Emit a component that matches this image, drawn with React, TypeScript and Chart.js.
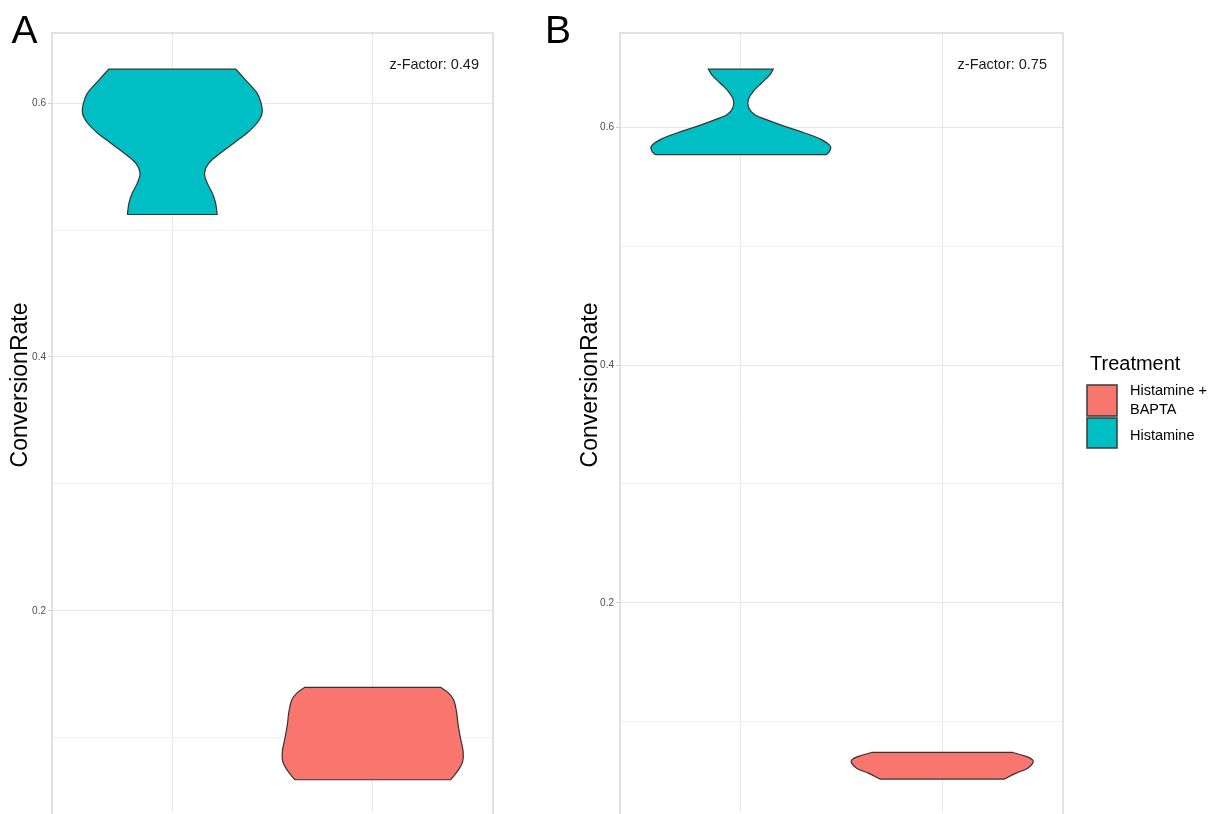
import React, { useEffect, useRef } from "react";
import { Chart, registerables } from "chart.js";

Chart.register(...registerables);

const FONT = "'Liberation Sans', Arial, Helvetica, sans-serif";

// Legend order / colours
const treatments = ["Histamine + BAPTA", "Histamine"];
const treatmentFills = ["#F8766D", "#00BFC4"];
const outlineColor = "#333333";

// Category positions on the x axis
const histaminePos = 1;
const baptaPos = 2;

// y ticks (labelled every 0.2, minor grid every 0.1)
const yTickValues = [0.1, 0.2, 0.3, 0.4, 0.5, 0.6];

// Panel A: z-factor and violin profiles (ConversionRate, half-width in category units)
const zFactorA = "0.49";
const histamineA_y = [0.5122, 0.5214, 0.5293, 0.5371, 0.545, 0.5528, 0.5607, 0.5686, 0.5764, 0.5843, 0.5921, 0.6, 0.6079, 0.6183, 0.6267];
const histamineA_w = [0.224, 0.216, 0.199, 0.174, 0.161, 0.183, 0.241, 0.308, 0.373, 0.423, 0.448, 0.443, 0.423, 0.365, 0.317];
const baptaA_y = [0.0669, 0.0708, 0.0761, 0.0813, 0.0892, 0.0996, 0.1101, 0.1206, 0.1297, 0.135, 0.1397];
const baptaA_w = [0.388, 0.409, 0.433, 0.449, 0.451, 0.438, 0.426, 0.418, 0.404, 0.38, 0.338];

// Panel B
const zFactorB = "0.75";
const histamineB_y = [0.5771, 0.5799, 0.5841, 0.5897, 0.5953, 0.6008, 0.6065, 0.6107, 0.6163, 0.6232, 0.6302, 0.6373, 0.6442, 0.649];
const histamineB_w = [0.425, 0.441, 0.445, 0.4, 0.317, 0.218, 0.127, 0.069, 0.04, 0.037, 0.062, 0.103, 0.144, 0.161];
const baptaB_y = [0.0517, 0.0567, 0.0609, 0.0651, 0.0679, 0.0708, 0.0741];
const baptaB_w = [0.309, 0.367, 0.425, 0.45, 0.449, 0.417, 0.35];

type Pt = { x: number; y: number };

// Closed outline of a violin: up the left side, across the top, down the right side.
// Corner points are repeated so the spline keeps the flat ends straight.
function violinOutline(center: number, ys: number[], ws: number[]): Pt[] {
  const n = ys.length;
  const left = ys.map((y, i) => ({ x: center - ws[i], y }));
  const right = ys.map((y, i) => ({ x: center + ws[i], y })).reverse();
  return [left[0], ...left, left[n - 1], right[0], ...right, right[n - 1], left[0], left[0]];
}

function violinDataset(label: string, data: Pt[], fill: string) {
  return {
    type: "line" as const,
    label,
    data,
    borderColor: outlineColor,
    borderWidth: 1.2,
    backgroundColor: fill,
    fill: "shape",
    pointRadius: 0,
    tension: 0.35,
  };
}

interface PanelSpec {
  letter: string;
  letterX: number;
  titleX: number;
  yMin: number;
  yMax: number;
  yAxisWidth: number;
  padRight: number;
  zFactor: string;
  zInset: number;
  showLegend: boolean;
  datasets: any[];
}

function decorPlugin(spec: PanelSpec) {
  return {
    id: "panelDecor",
    beforeDatasetsDraw(chart: any) {
      const { ctx, chartArea } = chart;
      const { left, top, right, bottom } = chartArea;
      ctx.save();
      ctx.strokeStyle = "#d9d9d9";
      ctx.lineWidth = 1.5;
      ctx.beginPath();
      ctx.moveTo(left, bottom + 2);
      ctx.lineTo(left, top);
      ctx.lineTo(right, top);
      ctx.lineTo(right, bottom + 2);
      ctx.stroke();
      ctx.restore();
    },
    afterDraw(chart: any) {
      const { ctx, chartArea } = chart;
      ctx.save();
      // panel letter
      ctx.fillStyle = "#000000";
      ctx.textAlign = "left";
      ctx.textBaseline = "alphabetic";
      ctx.font = `39px ${FONT}`;
      ctx.fillText(spec.letter, spec.letterX, 43);

      // y axis title
      ctx.save();
      ctx.translate(spec.titleX, 385);
      ctx.rotate(-Math.PI / 2);
      ctx.textAlign = "center";
      ctx.font = `23px ${FONT}`;
      ctx.fillText("ConversionRate", 0, 0);
      ctx.restore();

      // z-factor annotation
      ctx.font = `14.5px ${FONT}`;
      ctx.textAlign = "right";
      ctx.fillStyle = "#1a1a1a";
      ctx.fillText(`z-Factor: ${spec.zFactor}`, chartArea.right - spec.zInset, 69);

      if (spec.showLegend) {
        const lx = chartArea.right + 24;
        ctx.textAlign = "left";
        ctx.fillStyle = "#000000";
        ctx.font = `20px ${FONT}`;
        ctx.fillText("Treatment", lx + 3, 370);
        const boxes = [
          { y: 385, h: 31, lines: ["Histamine +", "BAPTA"], base: 395 },
          { y: 418, h: 30, lines: ["Histamine"], base: 439.5 },
        ];
        boxes.forEach((b, i) => {
          ctx.fillStyle = treatmentFills[i];
          ctx.fillRect(lx, b.y, 30, b.h);
          ctx.strokeStyle = "#3a3a3a";
          ctx.lineWidth = 1.5;
          ctx.strokeRect(lx, b.y, 30, b.h);
          ctx.fillStyle = "#000000";
          ctx.font = `14.5px ${FONT}`;
          b.lines.forEach((t, k) => ctx.fillText(t, lx + 43, b.base + k * 19));
        });
      }
      ctx.restore();
    },
  };
}

function makeConfig(spec: PanelSpec): any {
  const isMajor = (v: number) => Math.round(v * 10) % 2 === 0;
  return {
    type: "line",
    data: { datasets: spec.datasets },
    options: {
      responsive: false,
      animation: false,
      events: [],
      layout: { padding: { top: 33, right: spec.padRight, left: 0, bottom: 0 } },
      plugins: {
        legend: { display: false },
        tooltip: { enabled: false },
        title: { display: false },
      },
      scales: {
        x: {
          type: "linear",
          min: 0.4,
          max: 2.6,
          afterBuildTicks: (s: any) => {
            s.ticks = [{ value: histaminePos }, { value: baptaPos }];
          },
          afterFit: (s: any) => {
            s.height = 0;
          },
          ticks: { display: false },
          grid: { color: "#e8e8e8", lineWidth: 1, drawTicks: false },
          border: { display: false },
        },
        y: {
          type: "linear",
          min: spec.yMin,
          max: spec.yMax,
          afterBuildTicks: (s: any) => {
            s.ticks = yTickValues.map((v) => ({ value: v }));
          },
          afterFit: (s: any) => {
            s.width = spec.yAxisWidth;
          },
          ticks: {
            autoSkip: false,
            padding: 2,
            color: "#4d4d4d",
            font: { family: FONT, size: 10, lineHeight: 0 },
            callback: (v: number) => (isMajor(v) ? v.toFixed(1) : ""),
          },
          grid: {
            color: (c: any) => (c.tick && isMajor(c.tick.value) ? "#e8e8e8" : "#f0f0f0"),
            lineWidth: 1,
            tickLength: 4,
            tickColor: (c: any) => (c.tick && isMajor(c.tick.value) ? "#d0d0d0" : "rgba(0,0,0,0)"),
          },
          border: { display: false },
        },
      },
    },
    plugins: [decorPlugin(spec)],
  };
}

const panelA: PanelSpec = {
  letter: "A",
  letterX: 11.5,
  titleX: 26.5,
  yMin: 0.0415,
  yMax: 0.6552,
  yAxisWidth: 52,
  padRight: 7,
  zFactor: zFactorA,
  zInset: 14,
  showLegend: false,
  datasets: [
    violinDataset(treatments[1], violinOutline(histaminePos, histamineA_y, histamineA_w), treatmentFills[1]),
    violinDataset(treatments[0], violinOutline(baptaPos, baptaA_y, baptaA_w), treatmentFills[0]),
  ],
};

const panelB: PanelSpec = {
  letter: "B",
  letterX: 5,
  titleX: 56.5,
  yMin: 0.024,
  yMax: 0.6794,
  yAxisWidth: 80,
  padRight: 160,
  zFactor: zFactorB,
  zInset: 16,
  showLegend: true,
  datasets: [
    violinDataset(treatments[1], violinOutline(histaminePos, histamineB_y, histamineB_w), treatmentFills[1]),
    violinDataset(treatments[0], violinOutline(baptaPos, baptaB_y, baptaB_w), treatmentFills[0]),
  ],
};

export default function App() {
  const refA = useRef<HTMLCanvasElement>(null);
  const refB = useRef<HTMLCanvasElement>(null);

  useEffect(() => {
    document.body.style.margin = "0";
    document.body.style.overflow = "hidden";
    const a = new Chart(refA.current as HTMLCanvasElement, makeConfig(panelA));
    const b = new Chart(refB.current as HTMLCanvasElement, makeConfig(panelB));
    return () => {
      a.destroy();
      b.destroy();
    };
  }, []);

  return (
    <div style={{ position: "relative", width: 1223, height: 814, overflow: "hidden", background: "#ffffff" }}>
      <canvas ref={refA} width={500} height={814} style={{ position: "absolute", left: 0, top: 0, display: "block" }} />
      <canvas ref={refB} width={683} height={814} style={{ position: "absolute", left: 540, top: 0, display: "block" }} />
    </div>
  );
}
